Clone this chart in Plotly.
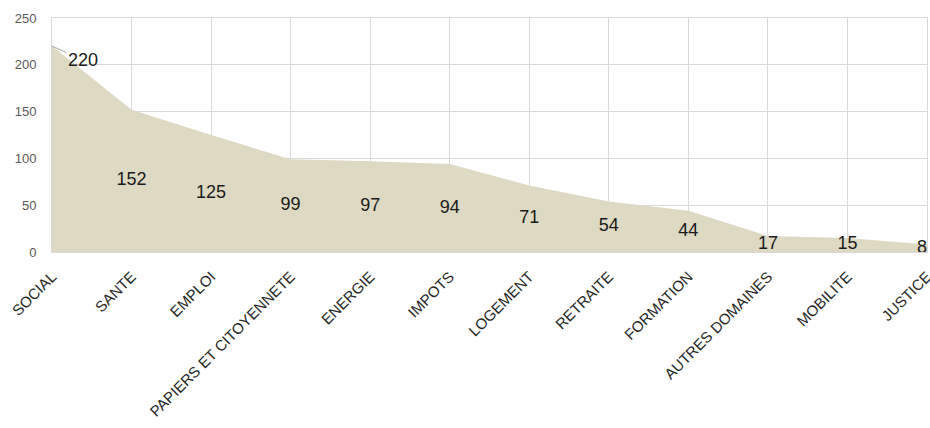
import plotly.graph_objects as go

categories = ["SOCIAL", "SANTE", "EMPLOI", "PAPIERS ET CITOYENNETE", "ENERGIE", "IMPOTS",
              "LOGEMENT", "RETRAITE", "FORMATION", "AUTRES DOMAINES", "MOBILITE", "JUSTICE"]
values = [220, 152, 125, 99, 97, 94, 71, 54, 44, 17, 15, 8]
y_ticks = [0, 50, 100, 150, 200, 250]

FONT = "Liberation Sans, Arial, sans-serif"
idx = list(range(len(categories)))

fig = go.Figure()
fig.add_trace(go.Scatter(
    x=idx, y=values, mode="lines", fill="tozeroy",
    line=dict(width=0, color="#DDD9C3"), fillcolor="#DDD9C3",
    hoverinfo="skip", showlegend=False))

# data labels at half height (except the first one, shown as a callout)
positions = ["middle center"] * (len(values) - 2) + ["middle left"]
fig.add_trace(go.Scatter(
    x=idx[1:], y=[v / 2 for v in values[1:]], mode="text",
    text=[str(v) for v in values[1:]], textposition=positions,
    textfont=dict(family=FONT, size=18, color="#1a1a1a"),
    cliponaxis=False, showlegend=False, hoverinfo="skip"))

fig.add_annotation(x=idx[0], y=values[0], text=str(values[0]),
                   showarrow=True, arrowhead=0, arrowwidth=1, arrowcolor="#a6a6a6",
                   ax=31, ay=14, xanchor="center", yanchor="middle",
                   font=dict(family=FONT, size=18, color="#1a1a1a"))

fig.update_layout(
    width=930, height=428,
    margin=dict(l=52, r=3, t=18, b=176, autoexpand=False),
    paper_bgcolor="white", plot_bgcolor="white",
    font=dict(family=FONT),
    xaxis=dict(range=[0, len(categories) - 1], tickmode="array", tickvals=idx,
               ticktext=categories, tickangle=-45, automargin=False,
               tickfont=dict(family=FONT, size=15, color="#262626"),
               ticklabelstandoff=9, ticklabeloverflow="allow",
               showgrid=True, gridcolor="#d9d9d9", gridwidth=1,
               showline=True, linecolor="#d9d9d9", mirror=True,
               zeroline=False, ticks="", ticklen=0),
    yaxis=dict(range=[0, 250], tickmode="array", tickvals=y_ticks, automargin=False,
               tickfont=dict(family=FONT, size=13, color="#595959"),
               ticklabelstandoff=12,
               showgrid=True, gridcolor="#d9d9d9", gridwidth=1,
               showline=True, linecolor="#d9d9d9", mirror=True,
               zeroline=False, ticks=""),
)

fig.write_html("out.html", config={"displayModeBar": False},
               post_script="document.body.style.margin='0';document.body.style.overflow='hidden';")
